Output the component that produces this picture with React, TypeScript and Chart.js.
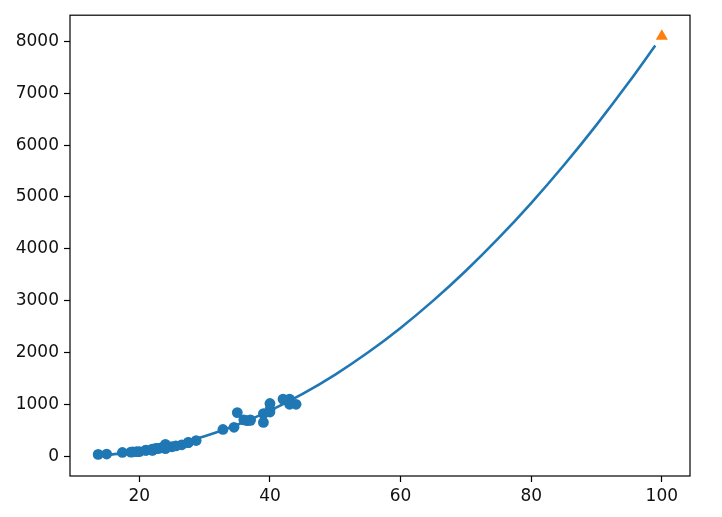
import React, { useEffect, useRef } from "react";
import { Chart, registerables } from "chart.js";

Chart.register(...registerables);

const trainLength = [19.6, 22, 18.7, 17.4, 36, 25, 40, 39, 43, 22, 20, 22, 24, 27.5, 43, 40, 24, 21, 27.5, 40, 32.8, 26.5, 36.5, 13.7, 22.7, 15, 37, 35, 28.7, 23.5, 39, 21, 23, 22, 44, 22.5, 19, 37, 22, 25.6, 42, 34.5];
const trainWeight = [85, 135, 78, 70, 700, 180, 850, 820, 1000, 120, 85, 130, 225, 260, 1100, 900, 145, 115, 265, 1015, 514, 218, 685, 32, 145, 40, 690, 840, 300, 170, 650, 110, 150, 110, 1000, 150, 80, 700, 120, 197, 1100, 556];

const curveX = [15, 20, 25, 30, 35, 40, 45, 50, 55, 60, 65, 70, 75, 80, 85, 90, 95, 99];
const curveY = [21, 91, 211, 382, 604, 877, 1200, 1574, 1999, 2474, 3000, 3577, 4205, 4883, 5612, 6392, 7222, 7923];

const predX = [100];
const predY = [8104];

const xTicks = [20, 40, 60, 80, 100];
const yTicks = [0, 1000, 2000, 3000, 4000, 5000, 6000, 7000, 8000];

const framePlugin = {
  id: "frame",
  afterDatasetsDraw(chart: any) {
    const { ctx, chartArea } = chart;
    const { left, top, right, bottom } = chartArea;
    ctx.save();
    ctx.strokeStyle = "#000";
    ctx.lineWidth = 1.2;
    ctx.strokeRect(left, top, right - left, bottom - top);
    ctx.restore();
  },
};

export default function App() {
  const ref = useRef<HTMLCanvasElement | null>(null);
  useEffect(() => {
    document.body.style.margin = "0";
    const canvas = ref.current;
    if (!canvas) return;
    const font = { family: "'DejaVu Sans', sans-serif", size: 17 };
    const chart = new Chart(canvas, {
      type: "scatter",
      data: {
        datasets: [
          {
            type: "scatter",
            data: trainLength.map((x, i) => ({ x, y: trainWeight[i] })),
            backgroundColor: "#1f77b4",
            borderColor: "#1f77b4",
            borderWidth: 0,
            pointRadius: 5.4,
            order: 3,
          },
          {
            type: "line",
            data: curveX.map((x, i) => ({ x, y: curveY[i] })),
            borderColor: "#1f77b4",
            borderWidth: 2.6,
            pointRadius: 0,
            fill: false,
            cubicInterpolationMode: "monotone",
            order: 2,
          },
          {
            type: "scatter",
            data: predX.map((x, i) => ({ x, y: predY[i] })),
            backgroundColor: "#ff7f0e",
            borderColor: "#ff7f0e",
            borderWidth: 0,
            pointStyle: "triangle",
            pointRadius: 7,
            order: 1,
          },
        ],
      } as any,
      options: {
        animation: false,
        responsive: false,
        maintainAspectRatio: false,
        layout: { padding: { top: 15, right: 32, left: 0, bottom: 0 } },
        plugins: { legend: { display: false }, tooltip: { enabled: false } },
        scales: {
          x: {
            type: "linear",
            min: 9.385,
            max: 104.315,
            afterFit: (s: any) => {
              s.height = 41;
            },
            afterBuildTicks: (s: any) => {
              s.ticks = xTicks.map((v) => ({ value: v }));
            },
            grid: {
              drawOnChartArea: false,
              drawTicks: true,
              tickLength: 6,
              tickColor: "#000",
              tickWidth: 1.2,
            },
            border: { display: false },
            ticks: {
              color: "#111",
              font,
              padding: 4,
              maxRotation: 0,
              callback: (v: any) => String(v),
            },
          },
          y: {
            type: "linear",
            min: -384,
            max: 8508,
            afterFit: (s: any) => {
              s.width = 70;
            },
            afterBuildTicks: (s: any) => {
              s.ticks = yTicks.map((v) => ({ value: v }));
            },
            grid: {
              drawOnChartArea: false,
              drawTicks: true,
              tickLength: 6,
              tickColor: "#000",
              tickWidth: 1.2,
            },
            border: { display: false },
            ticks: { color: "#111", font, padding: 5, callback: (v: any) => String(v) },
          },
        },
      } as any,
      plugins: [framePlugin],
    });
    return () => chart.destroy();
  }, []);
  return (
    <div style={{ width: 722, height: 517 }}>
      <canvas ref={ref} width={722} height={517} style={{ display: "block" }} />
    </div>
  );
}
